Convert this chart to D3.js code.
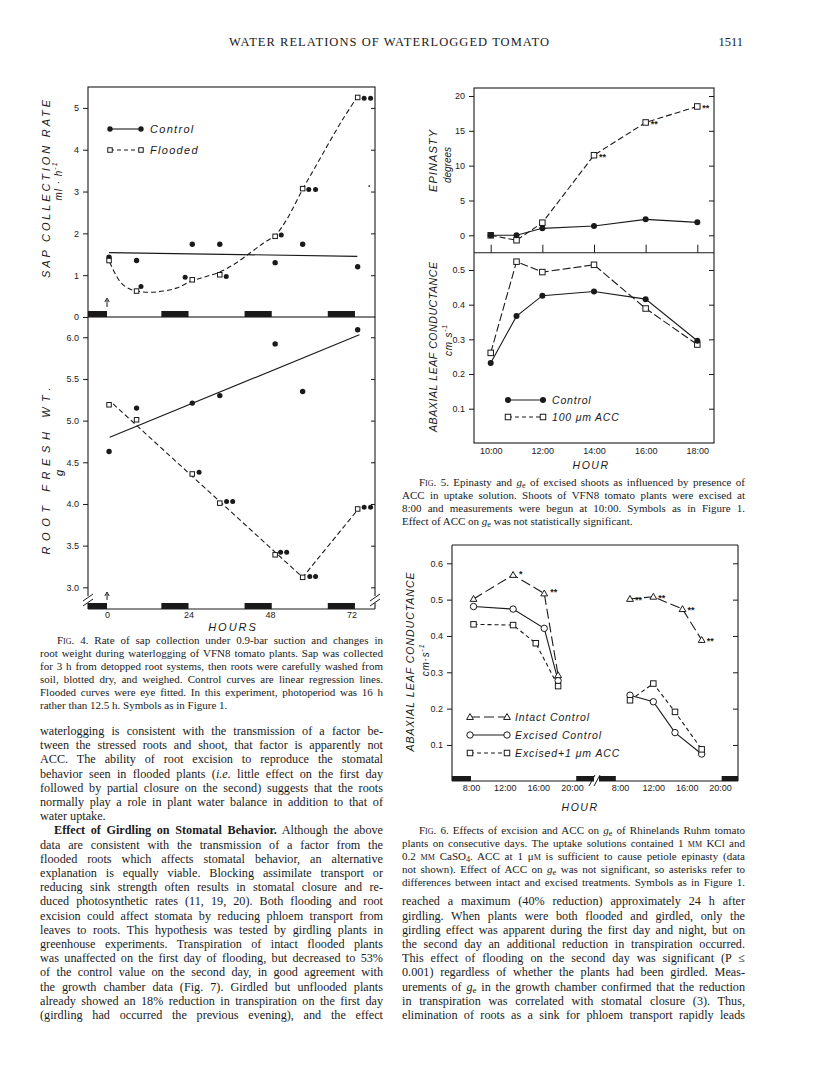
<!DOCTYPE html>
<html>
<head>
<meta charset="utf-8">
<script src="https://cdn.jsdelivr.net/npm/d3@7"></script>
<style>
body { margin: 0; background: #fff; }
svg { display: block; }
.serif { font-family: "Liberation Serif", "Times New Roman", serif; fill: #1a1a1a; }
.sans { font-family: "Liberation Sans", Arial, sans-serif; fill: #1a1a1a; }
</style>
</head>
<body>
<svg width="816" height="1073"></svg>
<script>
var svg = d3.select("svg"),
    ink = "#1a1a1a";

// ---------- Fig. 4 : sap collection and root weight vs hours of waterlogging
var hourTicks = [0, 24, 48, 72];
var nights4 = [[-8, 0], [16, 24], [40.5, 48.5], [65, 73]];
var sampleHours = [0.6, 8.7, 25.1, 33.2, 49.5, 57.6, 73.8];
var sapControl = [1.43, 1.35, 1.74, 1.74, 1.30, 1.74, 1.20];
var sapFlooded = [1.35, 0.62, 0.89, 1.01, 1.93, 3.07, 5.25];
var sapControlFit = [[0.6, 1.54], [73.7, 1.45]];
var sapFloodedFit = [[0.8, 1.31], [2.3, 1.05], [4.2, 0.81], [6.7, 0.67], [9.6, 0.61], [12.6, 0.59],
  [16.5, 0.62], [20.4, 0.69], [25.2, 0.87], [29.3, 0.97], [33.0, 1.07], [37.2, 1.25], [42.1, 1.53],
  [46.1, 1.77], [49.5, 1.95], [52.9, 2.33], [57.7, 3.07], [61.7, 3.64], [65.6, 4.20], [69.5, 4.74], [73.6, 5.25]];
var sapStars = [[10.0, 0.73], [23.0, 0.95], [35.1, 0.97], [51.3, 1.96], [59.4, 3.05], [61.4, 3.05], [75.7, 5.23], [77.6, 5.23]];
var rootControl = [4.63, 5.15, 5.21, 5.30, 5.92, 5.35, 6.09];
var rootFlooded = [5.19, 5.01, 4.36, 4.01, 3.39, 3.12, 3.94];
var rootControlFit = [[0.8, 4.80], [74.3, 6.03]];
var rootFloodedFit = [[1.8, 5.20], [57.6, 3.12], [74.0, 3.94]];
var rootStars = [[27.1, 4.38], [35.2, 4.03], [37.0, 4.03], [51.1, 3.42], [52.9, 3.42], [59.7, 3.13], [61.4, 3.13], [75.7, 3.96], [77.6, 3.96]];
var sapTicks = [0, 1, 2, 3, 4, 5];
var rootTicks = [3.0, 3.5, 4.0, 4.5, 5.0, 5.5, 6.0];

// ---------- Fig. 5 : epinasty and conductance of excised shoots
var fig5Hours = [10, 11, 12, 14, 16, 18];
var hourLabels5 = [10, 12, 14, 16, 18];
var epiControl = [0, 0, 1.0, 1.33, 2.29, 1.86];
var epiACC = [0, -0.71, 1.81, 11.5, 16.2, 18.5];
var epiStarHours = [14, 16, 18];
var condControl = [0.232, 0.367, 0.426, 0.438, 0.416, 0.296];
var condACC = [0.261, 0.524, 0.494, 0.515, 0.389, 0.285];
var epiTicks = [0, 5, 10, 15, 20];
var cond5Ticks = [0.1, 0.2, 0.3, 0.4, 0.5];

// ---------- Fig. 6 : two consecutive days, [hour, conductance]
var intactDay1 = [[8.3, 0.502], [13.0, 0.568], [16.7, 0.517], [18.35, 0.292]];
var excisedDay1 = [[8.3, 0.481], [13.0, 0.474], [16.7, 0.421], [18.35, 0.277]];
var accDay1 = [[8.3, 0.432], [13.0, 0.430], [15.7, 0.380], [18.35, 0.262]];
var intactDay2 = [[9.2, 0.502], [12.0, 0.508], [15.5, 0.474], [17.8, 0.389]];
var excisedDay2 = [[9.2, 0.237], [12.0, 0.219], [14.6, 0.134], [17.8, 0.075]];
var accDay2 = [[9.2, 0.223], [12.0, 0.269], [14.6, 0.191], [17.8, 0.088]];
var starsDay1 = [[13.0, 0.568, "*"], [16.7, 0.517, "**"]];
var starsDay2 = [[9.2, 0.502, "**"], [12.0, 0.508, "**"], [15.5, 0.474, "**"], [17.8, 0.389, "**"]];
var nightsDay1 = [[0, 8], [20.5, 24]];
var nightsDay2 = [[0, 7.5], [20.2, 24]];
var hourLabels6 = [8, 12, 16, 20];
var cond6Ticks = [0.1, 0.2, 0.3, 0.4, 0.5, 0.6];

// ---------- page text
var leftBody = [
  "waterlogging is consistent with the transmission of a factor be-",
  "tween the stressed roots and shoot, that factor is apparently not",
  "ACC. The ability of root excision to reproduce the stomatal",
  "behavior seen in flooded plants ({i:i.e.} little effect on the first day",
  "followed by partial closure on the second) suggests that the roots",
  "normally play a role in plant water balance in addition to that of",
  "water uptake.|",
  ">{b:Effect of Girdling on Stomatal Behavior.} Although the above",
  "data are consistent with the transmission of a factor from the",
  "flooded roots which affects stomatal behavior, an alternative",
  "explanation is equally viable. Blocking assimilate transport or",
  "reducing sink strength often results in stomatal closure and re-",
  "duced photosynthetic rates (11, 19, 20). Both flooding and root",
  "excision could affect stomata by reducing phloem transport from",
  "leaves to roots. This hypothesis was tested by girdling plants in",
  "greenhouse experiments. Transpiration of intact flooded plants",
  "was unaffected on the first day of flooding, but decreased to 53%",
  "of the control value on the second day, in good agreement with",
  "the growth chamber data (Fig. 7). Girdled but unflooded plants",
  "already showed an 18% reduction in transpiration on the first day",
  "(girdling had occurred the previous evening), and the effect"
];
var rightBody = [
  "reached a maximum (40% reduction) approximately 24 h after",
  "girdling. When plants were both flooded and girdled, only the",
  "girdling effect was apparent during the first day and night, but on",
  "the second day an additional reduction in transpiration occurred.",
  "This effect of flooding on the second day was significant (P ≤",
  "0.001) regardless of whether the plants had been girdled. Meas-",
  "urements of {i:g}{sub:e} in the growth chamber confirmed that the reduction",
  "in transpiration was correlated with stomatal closure (3). Thus,",
  "elimination of roots as a sink for phloem transport rapidly leads"
];
var caption4 = [
  ">{sc:Fig.} 4. Rate of sap collection under 0.9-bar suction and changes in",
  "root weight during waterlogging of VFN8 tomato plants. Sap was collected",
  "for 3 h from detopped root systems, then roots were carefully washed from",
  "soil, blotted dry, and weighed. Control curves are linear regression lines.",
  "Flooded curves were eye fitted. In this experiment, photoperiod was 16 h",
  "rather than 12.5 h. Symbols as in Figure 1.|"
];
var caption5 = [
  ">{sc:Fig.} 5. Epinasty and {i:g}{sub:e} of excised shoots as influenced by presence of",
  "ACC in uptake solution. Shoots of VFN8 tomato plants were excised at",
  "8:00 and measurements were begun at 10:00. Symbols as in Figure 1.",
  "Effect of ACC on {i:g}{sub:e} was not statistically significant.|"
];
var caption6 = [
  ">{sc:Fig.} 6. Effects of excision and ACC on {i:g}{sub:e} of Rhinelands Ruhm tomato",
  "plants on consecutive days. The uptake solutions contained 1 {sc:mm} KCl and",
  "0.2 {sc:mm} CaSO{sub:4}. ACC at 1 μ{sc:m} is sufficient to cause petiole epinasty (data",
  "not shown). Effect of ACC on {i:g}{sub:e} was not significant, so asterisks refer to",
  "differences between intact and excised treatments. Symbols as in Figure 1."
];

svg.append("rect").attr("width", 816).attr("height", 1073).attr("fill", "#fff");

// rich text: {i:..} italic, {b:..} bold, {sc:..} small caps, {sub:..}/{sup:..}
function setLine(sel, str) {
  var re = /\{(\w+):([^}]*)\}/g, last = 0, m;
  while ((m = re.exec(str)) !== null) {
    if (m.index > last) sel.append("tspan").text(str.slice(last, m.index));
    var t = sel.append("tspan").text(m[2]);
    if (m[1] == "i") t.style("font-style", "italic");
    if (m[1] == "b") t.style("font-weight", "bold");
    if (m[1] == "sc") t.style("font-variant", "small-caps");
    if (m[1] == "sub") t.attr("baseline-shift", "-1.5").style("font-size", "75%");
    if (m[1] == "sup") t.attr("baseline-shift", "super").style("font-size", "70%");
    last = re.lastIndex;
  }
  if (last < str.length) sel.append("tspan").text(str.slice(last));
}

function paragraph(lines, x0, x1, y0, lead, size, indent) {
  lines.forEach(function(s, i) {
    var ind = s.charAt(0) == ">" ? indent : 0,
        ragged = s.slice(-1) == "|";
    s = s.replace(/^>/, "").replace(/\|$/, "");
    var t = svg.append("text").attr("class", "serif")
        .attr("x", x0 + ind).attr("y", y0 + i * lead)
        .style("font-size", size + "px");
    setLine(t, s);
    if (!ragged) {
      var w = t.node().getComputedTextLength(),
          n = (s.match(/ /g) || []).length;
      if (n) t.style("word-spacing", ((x1 - x0 - ind - w) / n) + "px");
    }
  });
}

function label(x, y, str, size, opts) {
  opts = opts || {};
  var t = svg.append("text").attr("class", "sans")
      .attr("transform", "translate(" + x + "," + y + ")" + (opts.rotate ? " rotate(-90)" : ""))
      .attr("text-anchor", opts.anchor || "middle")
      .attr("dominant-baseline", "central")
      .style("font-size", size + "px")
      .style("font-style", opts.upright ? "normal" : "italic");
  if (opts.weight) t.style("font-weight", opts.weight);
  if (opts.spacing) t.style("letter-spacing", opts.spacing + "px");
  setLine(t, str);
  if (opts.len) t.attr("textLength", opts.len).attr("lengthAdjust", "spacing");
  return t;
}

function styleAxis(a) {
  a.attr("font-family", "Liberation Sans, Arial, sans-serif").attr("font-size", 9);
  a.select(".domain").remove();
  a.selectAll("line").attr("stroke", ink);
  a.selectAll("text").attr("fill", ink);
}

function line(pts, sx, sy, dash, curve) {
  svg.append("path")
      .attr("d", d3.line().x(function(d) { return sx(d[0]); }).y(function(d) { return sy(d[1]); })
        .curve(curve || d3.curveLinear)(pts))
      .attr("fill", "none").attr("stroke", ink).attr("stroke-width", 1.1)
      .attr("stroke-dasharray", dash || null);
}

function dot(x, y, r) {
  svg.append("circle").attr("cx", x).attr("cy", y).attr("r", r).attr("fill", ink);
}
function ring(x, y, r) {
  svg.append("circle").attr("cx", x).attr("cy", y).attr("r", r)
      .attr("fill", "#fff").attr("stroke", ink).attr("stroke-width", 1);
}
function box(x, y, s) {
  svg.append("rect").attr("x", x - s / 2).attr("y", y - s / 2).attr("width", s).attr("height", s)
      .attr("fill", "#fff").attr("stroke", ink).attr("stroke-width", 1);
}
function tri(x, y) {
  svg.append("path").attr("transform", "translate(" + x + "," + (y + 0.5) + ")")
      .attr("d", d3.symbol(d3.symbolTriangle, 20)())
      .attr("fill", "#fff").attr("stroke", ink).attr("stroke-width", 1);
}
function seg(x1, y1, x2, y2, w, dash) {
  return svg.append("line").attr("x1", x1).attr("y1", y1).attr("x2", x2).attr("y2", y2)
      .attr("stroke", ink).attr("stroke-width", w || 1.1)
      .attr("stroke-dasharray", dash || null);
}

// ---------- header
svg.append("text").attr("class", "serif").attr("x", 229).attr("y", 46)
    .attr("textLength", 320).attr("lengthAdjust", "spacing")
    .style("font-size", "12.5px").text("WATER RELATIONS OF WATERLOGGED TOMATO");
svg.append("text").attr("class", "serif").attr("x", 743).attr("y", 46)
    .attr("text-anchor", "end").style("font-size", "12.5px").text("1511");

// ---------- Fig. 4
var x4 = d3.scaleLinear().domain([-5.6, 78.9]).range([88, 375]),
    ySap = d3.scaleLinear().domain([0, 5.5]).range([317, 87]),
    yRoot = d3.scaleLinear().domain([2.74, 6.243]).range([609, 317]);

svg.append("rect").attr("x", 88).attr("y", 87).attr("width", 287).attr("height", 230)
    .attr("fill", "none").attr("stroke", ink).attr("stroke-width", 1.1);
seg(88, 317, 88, 596); seg(375, 317, 375, 596);
seg(88, 603, 88, 609); seg(375, 603, 375, 609);
seg(88, 609, 375, 609);
[88, 375].forEach(function(x) {
  seg(x - 5, 601, x + 5, 594, 1); seg(x - 5, 606, x + 5, 599, 1);
});

nights4.forEach(function(n) {
  var a = Math.max(x4(n[0]), 88), b = Math.min(x4(n[1]), 375);
  svg.append("rect").attr("x", a).attr("y", 311).attr("width", b - a).attr("height", 6).attr("fill", ink);
  svg.append("rect").attr("x", a).attr("y", 603).attr("width", b - a).attr("height", 6).attr("fill", ink);
});

svg.append("g").attr("transform", "translate(88,0)")
    .call(d3.axisLeft(ySap).tickValues(sapTicks).tickSize(5).tickPadding(4).tickFormat(d3.format("d")))
    .call(styleAxis);
svg.append("g").attr("transform", "translate(375,0)")
    .call(d3.axisLeft(ySap).tickValues(sapTicks.slice(1)).tickSize(4).tickFormat(""))
    .call(styleAxis);
svg.append("g").attr("transform", "translate(88,0)")
    .call(d3.axisLeft(yRoot).tickValues(rootTicks).tickSize(5).tickPadding(4).tickFormat(d3.format(".1f")))
    .call(styleAxis);
svg.append("g").attr("transform", "translate(375,0)")
    .call(d3.axisLeft(yRoot).tickValues(rootTicks).tickSize(4).tickFormat(""))
    .call(styleAxis);
svg.append("g").attr("transform", "translate(0,609)")
    .call(d3.axisBottom(x4).tickValues(hourTicks).tickSize(0).tickPadding(3))
    .call(styleAxis);

line(sapControlFit, x4, ySap);
line(sapFloodedFit, x4, ySap, "5,3", d3.curveCatmullRom);
line(rootControlFit, x4, yRoot);
line(rootFloodedFit, x4, yRoot, "5,3");
sampleHours.forEach(function(h, i) {
  dot(x4(h), ySap(sapControl[i]), 2.7);
  box(x4(h), ySap(sapFlooded[i]), 4.5);
  dot(x4(h), yRoot(rootControl[i]), 2.7);
  box(x4(h), yRoot(rootFlooded[i]), 4.5);
});
sapStars.forEach(function(d) { dot(x4(d[0]), ySap(d[1]), 2.5); });
rootStars.forEach(function(d) { dot(x4(d[0]), yRoot(d[1]), 2.5); });
dot(x4(77.2), ySap(3.13), 0.9);

// arrows at flooding time
[[307, 298], [600, 592]].forEach(function(a) {
  seg(x4(0), a[0], x4(0), a[1] + 2, 1);
  svg.append("path").attr("d", "M" + (x4(0) - 2.2) + "," + (a[1] + 4) + "L" + x4(0) + "," + a[1] + "L" + (x4(0) + 2.2) + "," + (a[1] + 4))
      .attr("fill", "none").attr("stroke", ink).attr("stroke-width", 1);
});

// legend
seg(110, 129, 141, 129); dot(110, 129, 2.7); dot(141, 129, 2.7);
seg(110, 150, 141, 150, 1.1, "4,3");
box(110, 150, 4.5); box(141, 150, 4.5);
label(150, 129, "Control", 11, {anchor: "start", spacing: 1.3});
label(150, 150, "Flooded", 11, {anchor: "start", spacing: 1.3});

label(46, 189, "SAP COLLECTION RATE", 11, {rotate: true, len: 178});
label(58, 181, "ml · h{sup:-1}", 10, {rotate: true, spacing: 1});
label(46, 471, "ROOT FRESH WT.", 11, {rotate: true, len: 167});
label(59, 473, "g", 11, {rotate: true});
label(233, 627, "HOURS", 11, {spacing: 2});

// ---------- Fig. 5
var x5 = d3.scaleLinear().domain([10, 18]).range([490.7, 697.3]),
    yEpi = d3.scaleLinear().domain([0, 20]).range([235.3, 96]),
    yCond5 = d3.scaleLinear().domain([0.1, 0.5]).range([408.7, 270]);

svg.append("rect").attr("x", 474).attr("y", 88).attr("width", 240).attr("height", 355)
    .attr("fill", "none").attr("stroke", ink).attr("stroke-width", 1.1);
seg(474, 252.7, 714, 252.7);

svg.append("g").attr("transform", "translate(474,0)")
    .call(d3.axisLeft(yEpi).tickValues(epiTicks).tickSize(5).tickPadding(4))
    .call(styleAxis);
svg.append("g").attr("transform", "translate(714,0)")
    .call(d3.axisLeft(yEpi).tickValues(epiTicks).tickSize(5).tickFormat(""))
    .call(styleAxis);
svg.append("g").attr("transform", "translate(474,0)")
    .call(d3.axisLeft(yCond5).tickValues(cond5Ticks).tickSize(5).tickPadding(4).tickFormat(d3.format(".1f")))
    .call(styleAxis);
svg.append("g").attr("transform", "translate(714,0)")
    .call(d3.axisLeft(yCond5).tickValues(cond5Ticks).tickSize(5).tickFormat(""))
    .call(styleAxis);
svg.append("g").attr("transform", "translate(0,252.7)")
    .call(d3.axisTop(x5).tickValues(hourLabels5).tickSize(8).tickFormat(""))
    .call(styleAxis);
svg.append("g").attr("transform", "translate(0,443)")
    .call(d3.axisBottom(x5).tickValues(hourLabels5).tickSize(0).tickPadding(5)
      .tickFormat(function(d) { return d + ":00"; }))
    .call(styleAxis);

var epiC = fig5Hours.map(function(h, i) { return [h, epiControl[i]]; }),
    epiA = fig5Hours.map(function(h, i) { return [h, epiACC[i]]; }),
    condC = fig5Hours.map(function(h, i) { return [h, condControl[i]]; }),
    condA = fig5Hours.map(function(h, i) { return [h, condACC[i]]; });
line(epiA, x5, yEpi, "6,3");
line(epiC, x5, yEpi);
line(condA, x5, yCond5, "8,3");
line(condC, x5, yCond5);
epiA.forEach(function(d) { box(x5(d[0]), yEpi(d[1]), 5.5); });
epiC.forEach(function(d) { dot(x5(d[0]), yEpi(d[1]), 3); });
condA.forEach(function(d) { box(x5(d[0]), yCond5(d[1]), 5.5); });
condC.forEach(function(d) { dot(x5(d[0]), yCond5(d[1]), 3); });
epiStarHours.forEach(function(h) {
  label(x5(h) + 5, yEpi(epiACC[fig5Hours.indexOf(h)]) + 1.5, "**", 9, {anchor: "start", upright: true, weight: "bold"});
});

seg(508, 400, 543, 400); dot(508, 400, 3); dot(543, 400, 3);
seg(508, 417, 543, 417, 1.1, "4,3");
box(508, 417, 5.5); box(543, 417, 5.5);
label(552, 400, "Control", 10.5, {anchor: "start", spacing: 0.8});
label(552, 417, "100 μm ACC", 10.5, {anchor: "start", spacing: 0.8});

label(433, 161, "EPINASTY", 11, {rotate: true, len: 62});
label(447, 165, "degrees", 10, {rotate: true});
label(433, 347, "ABAXIAL LEAF CONDUCTANCE", 10.5, {rotate: true, len: 170});
label(448, 340, "cm s{sup:-1}", 10, {rotate: true, spacing: 0.8});
label(591, 465, "HOUR", 10.5, {spacing: 1.5});

// ---------- Fig. 6
var xd1 = d3.scaleLinear().domain([8, 20]).range([471, 572]),
    xd2 = d3.scaleLinear().domain([8, 20]).range([620, 720]),
    yCond6 = d3.scaleLinear().domain([0, 0.6]).range([781.3, 563.3]);

seg(452, 545, 738, 545); seg(452, 545, 452, 781); seg(738, 545, 738, 781);
seg(452, 781, 594, 781); seg(599, 781, 738, 781);
seg(589, 786, 595, 775, 1); seg(594, 786, 600, 775, 1);

[[nightsDay1, xd1, 452, 594], [nightsDay2, xd2, 599, 738]].forEach(function(d) {
  d[0].forEach(function(n) {
    var a = Math.max(d[1](n[0]), d[2]), b = Math.min(d[1](n[1]), d[3]);
    svg.append("rect").attr("x", a).attr("y", 776).attr("width", b - a).attr("height", 5).attr("fill", ink);
  });
});

svg.append("g").attr("transform", "translate(452,0)")
    .call(d3.axisLeft(yCond6).tickValues(cond6Ticks).tickSize(5).tickPadding(4).tickFormat(d3.format(".1f")))
    .call(styleAxis);
svg.append("g").attr("transform", "translate(738,0)")
    .call(d3.axisLeft(yCond6).tickValues(cond6Ticks).tickSize(5).tickFormat(""))
    .call(styleAxis);
[xd1, xd2].forEach(function(sx) {
  svg.append("g").attr("transform", "translate(0,781)")
      .call(d3.axisBottom(sx).tickValues(hourLabels6).tickSize(0).tickPadding(4)
        .tickFormat(function(d) { return d + ":00"; }))
      .call(styleAxis);
});

[[intactDay1, excisedDay1, accDay1, xd1], [intactDay2, excisedDay2, accDay2, xd2]].forEach(function(d) {
  var sx = d[3];
  line(d[0], sx, yCond6, "10,4");
  line(d[1], sx, yCond6);
  line(d[2], sx, yCond6, "4,3");
  d[0].forEach(function(p) { tri(sx(p[0]), yCond6(p[1])); });
  d[1].forEach(function(p) { ring(sx(p[0]), yCond6(p[1]), 3.2); });
  d[2].forEach(function(p) { box(sx(p[0]), yCond6(p[1]), 5.5); });
});
starsDay1.forEach(function(s) {
  label(xd1(s[0]) + 6, yCond6(s[1]) - 1, s[2], 9, {anchor: "start", upright: true, weight: "bold"});
});
starsDay2.forEach(function(s) {
  label(xd2(s[0]) + 5, yCond6(s[1]) + 1, s[2], 9, {anchor: "start", upright: true, weight: "bold"});
});

seg(470, 717, 507, 717, 1.1, "10,4"); tri(470, 717); tri(507, 717);
seg(470, 735, 507, 735); ring(470, 735, 3.2); ring(507, 735, 3.2);
seg(470, 753, 507, 753, 1.1, "4,3"); box(470, 753, 5.5); box(507, 753, 5.5);
label(515, 717, "Intact Control", 10.5, {anchor: "start", spacing: 0.9});
label(515, 735, "Excised Control", 10.5, {anchor: "start", spacing: 0.9});
label(515, 753, "Excised+1 μm ACC", 10.5, {anchor: "start", spacing: 0.9});

label(410, 662, "ABAXIAL LEAF CONDUCTANCE", 10.5, {rotate: true, len: 179});
label(425, 660, "cm·s{sup:-1}", 10, {rotate: true, spacing: 0.8});
label(580, 807, "HOUR", 10.5, {spacing: 1.5});

// ---------- text blocks
paragraph(caption4, 40, 383, 644, 12.9, 11, 17);
paragraph(caption5, 402, 745, 486, 12.9, 11, 17);
paragraph(caption6, 402, 745, 834, 12.9, 11, 17);
paragraph(leftBody, 40, 383, 735, 14.2, 12.2, 14);
paragraph(rightBody, 402, 745, 905.4, 14.2, 12.2, 14);
</script>
</body>
</html>
